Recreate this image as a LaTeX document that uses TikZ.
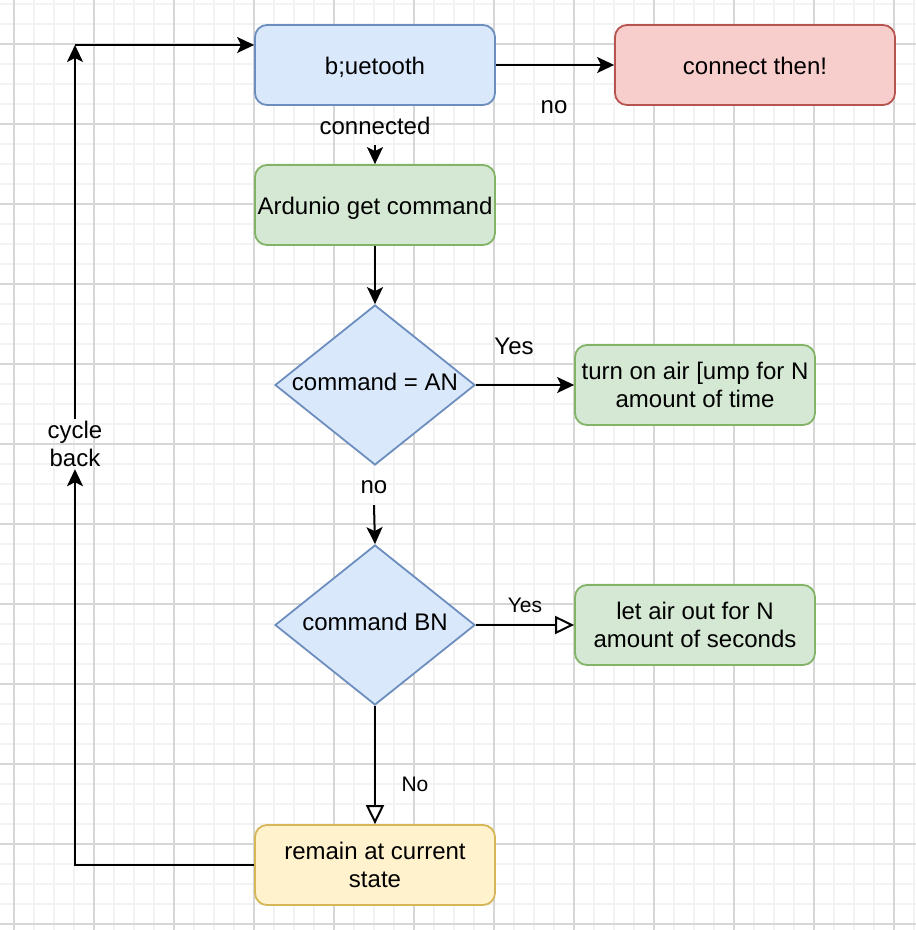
\documentclass[tikz,border=0pt]{standalone}
\usepackage{fontspec}
\setmainfont{Liberation Sans}
\usetikzlibrary{arrows.meta,shapes.geometric}
\definecolor{bluef}{HTML}{DAE8FC}\definecolor{blued}{HTML}{6C8EBF}
\definecolor{redf}{HTML}{F8CECC}\definecolor{redd}{HTML}{B85450}
\definecolor{greenf}{HTML}{D5E8D4}\definecolor{greend}{HTML}{82B366}
\definecolor{yellowf}{HTML}{FFF2CC}\definecolor{yellowd}{HTML}{D6B656}
\definecolor{gridminor}{HTML}{F3F3F3}\definecolor{gridmajor}{HTML}{D6D6D6}
\tikzset{
  txt/.style={font=\fontsize{24}{28}\selectfont, align=center, inner sep=0},
  smalltxt/.style={font=\fontsize{21}{25}\selectfont, align=center, inner sep=0},
  box/.style={txt, rectangle, rounded corners=12, minimum width=240, minimum height=80, line width=1.8},
  oneline/.style={text height=18, text depth=0},
  dia/.style={diamond, minimum width=200, minimum height=160, inner sep=0, line width=1.8, draw=blued, fill=bluef},
  diatxt/.style={txt, text height=17.4, text depth=6},
  conn/.style={line width=2, -{Stealth[length=17pt,width=16pt,inset=4pt]}},
  oconn/.style={line width=2, -{Triangle[open,fill=white,length=19pt,width=18pt]}},
}
\begin{document}
\begin{tikzpicture}[x=1pt,y=-1pt]
\fill[white] (0,0) rectangle (916,930);
\useasboundingbox (0,0) rectangle (916,930);
\foreach \x in {14,34,...,914} \draw[gridminor, line width=1.1] (\x,0) -- (\x,930);
\foreach \y in {4,24,...,924} \draw[gridminor, line width=1.1] (0,\y) -- (916,\y);
\foreach \x in {14,94,...,914} \draw[gridmajor, line width=1.1] (\x,0) -- (\x,930);
\foreach \y in {44,124,...,924} \draw[gridmajor, line width=1.1] (0,\y) -- (916,\y);

\node[box, oneline, draw=blued, fill=bluef] (bt) at (375,65) {b;uetooth};
\node[box, oneline, draw=redd, fill=redf, minimum width=280] (ct) at (755,65) {connect then!};
\node[txt] (nolab) at (554,107) {no};
\node[txt, minimum height=38] (cn) at (375,126) {connected};
\node[box, oneline, draw=greend, fill=greenf] (ard) at (375,205) {Ardunio get command};
\node[dia] (d1) at (375,385) {};
\node[diatxt] (d1t) at (d1.center) {command = AN};
\node[txt] (yes1) at (514,346) {Yes};
\node[box, draw=greend, fill=greenf] (ta) at (695,385) {turn on air [ump for N\\amount of time};
\node[txt, minimum height=36] (no2) at (374,487) {no};
\node[dia] (d2) at (375,625) {};
\node[diatxt] (d2t) at (d2.center) {command BN};
\node[smalltxt] (yes2) at (525,605) {Yes};
\node[box, draw=greend, fill=greenf] (la) at (695,625) {let air out for N\\amount of seconds};
\node[smalltxt] (no3) at (415,784) {No};
\node[box, draw=yellowd, fill=yellowf] (rem) at (375,865) {remain at current\\state};
\node[txt, minimum height=50] (cb) at (75,444) {cycle\\back};
\coordinate (corner) at (75,45);

\draw[conn] (bt.east) -- (ct.west);
\draw[conn] (cn.south) -- (ard.north);
\draw[conn] (ard.south) -- (d1.north);
\draw[conn] (d1.east) -- (ta.west);
\draw[conn] (no2.south) -- (d2.north);
\draw[oconn] (d2.east) -- (la.west);
\draw[oconn] (d2.south) -- (rem.north);
\draw[conn] (rem.west) -| (cb.south);
\draw[conn] (cb.north) -- (corner);
\draw[conn] (corner) -- (corner -| bt.west);
\end{tikzpicture}
\end{document}
